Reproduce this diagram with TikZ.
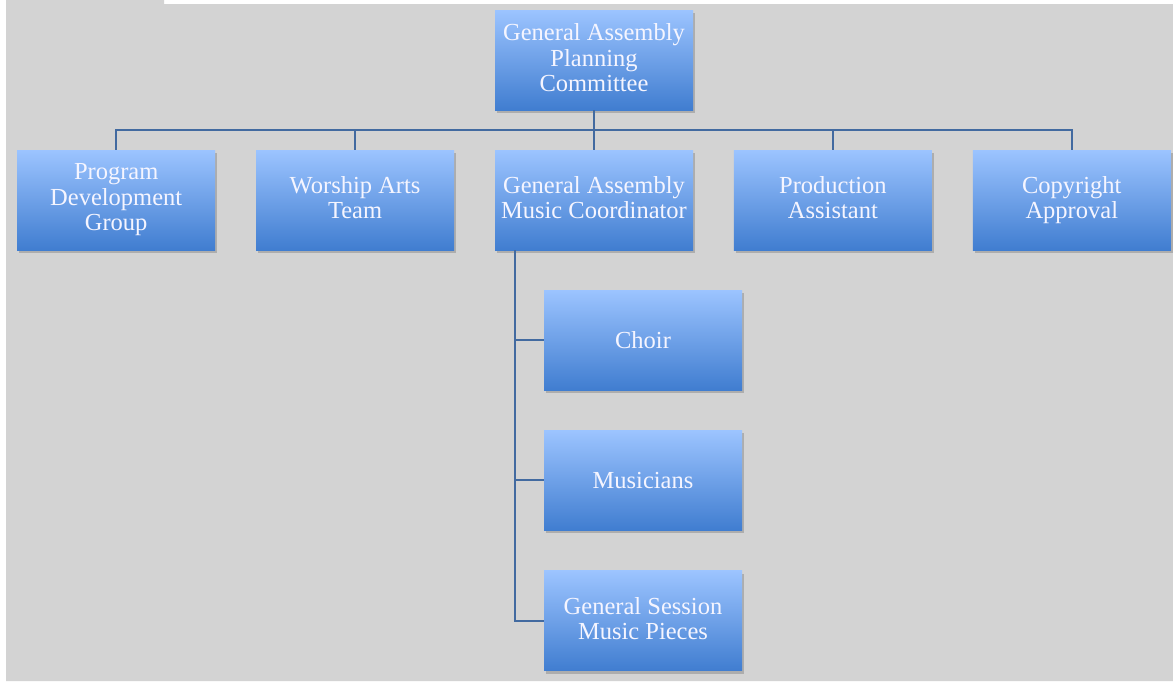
\documentclass[tikz,border=0pt]{standalone}
\usepackage{fontspec}
\setmainfont{Liberation Serif}
\usetikzlibrary{positioning,shadows}

\definecolor{bggray}{RGB}{211,211,211}
\definecolor{boxtop}{RGB}{156,196,255}
\definecolor{boxbot}{RGB}{64,125,208}
\definecolor{linkblue}{RGB}{66,106,160}
\newcommand{\unitstrut}{\rule[-4.6pt]{0pt}{25.5pt}}

\begin{document}
\begin{tikzpicture}[x=1pt, y=-1pt, node distance=40pt and 40.5pt,
  unit/.style={rectangle, minimum width=198pt, minimum height=100pt,
    top color=boxtop, bottom color=boxbot, draw=none, text=white!96!blue,
    align=center, font=\fontsize{24.5}{25.5}\selectfont,
    execute at begin node=\unitstrut, execute at end node=\unitstrut,
    drop shadow={shadow xshift=2pt, shadow yshift=-3pt, fill=black!50, opacity=.45}},
  link/.style={draw=linkblue, line width=2pt}]

  \useasboundingbox (0,0) rectangle (1173,681);
  \fill[white] (0,0) rectangle (1173,681);
  \fill[bggray] (6,0) -- (164,0) -- (164,4) -- (1173,4) -- (1173,681) -- (6,681) -- cycle;

  % top level
  \node[unit] (gapc) at (594,60) {General Assembly\\Planning\\Committee};

  % second row
  \node[unit] (mc) at (594,200) {General Assembly\\Music Coordinator};
  \node[unit] (wat) [left=of mc] {Worship Arts\\Team};
  \node[unit] (pdg) [left=of wat] {Program\\Development\\Group};
  \node[unit] (pa) [right=of mc] {Production\\Assistant};
  \node[unit] (ca) [right=of pa] {Copyright\\Approval};

  % under the music coordinator
  \node[unit] (choir) at (643,340) {Choir};
  \node[unit] (mus) [below=of choir] {Musicians};
  \node[unit] (gsmp) [below=of mus] {General Session\\Music Pieces};

  \coordinate (bus) at (594,130);
  \draw[link] (gapc.south) -- (bus);
  \foreach \n in {pdg,wat,mc,pa,ca}
    \draw[link] (bus) -| (\n.north);

  \coordinate (trunk) at ([xshift=20pt]mc.south west);
  \foreach \n in {choir,mus,gsmp}
    \draw[link] (trunk) |- (\n.west);

\end{tikzpicture}
\end{document}
